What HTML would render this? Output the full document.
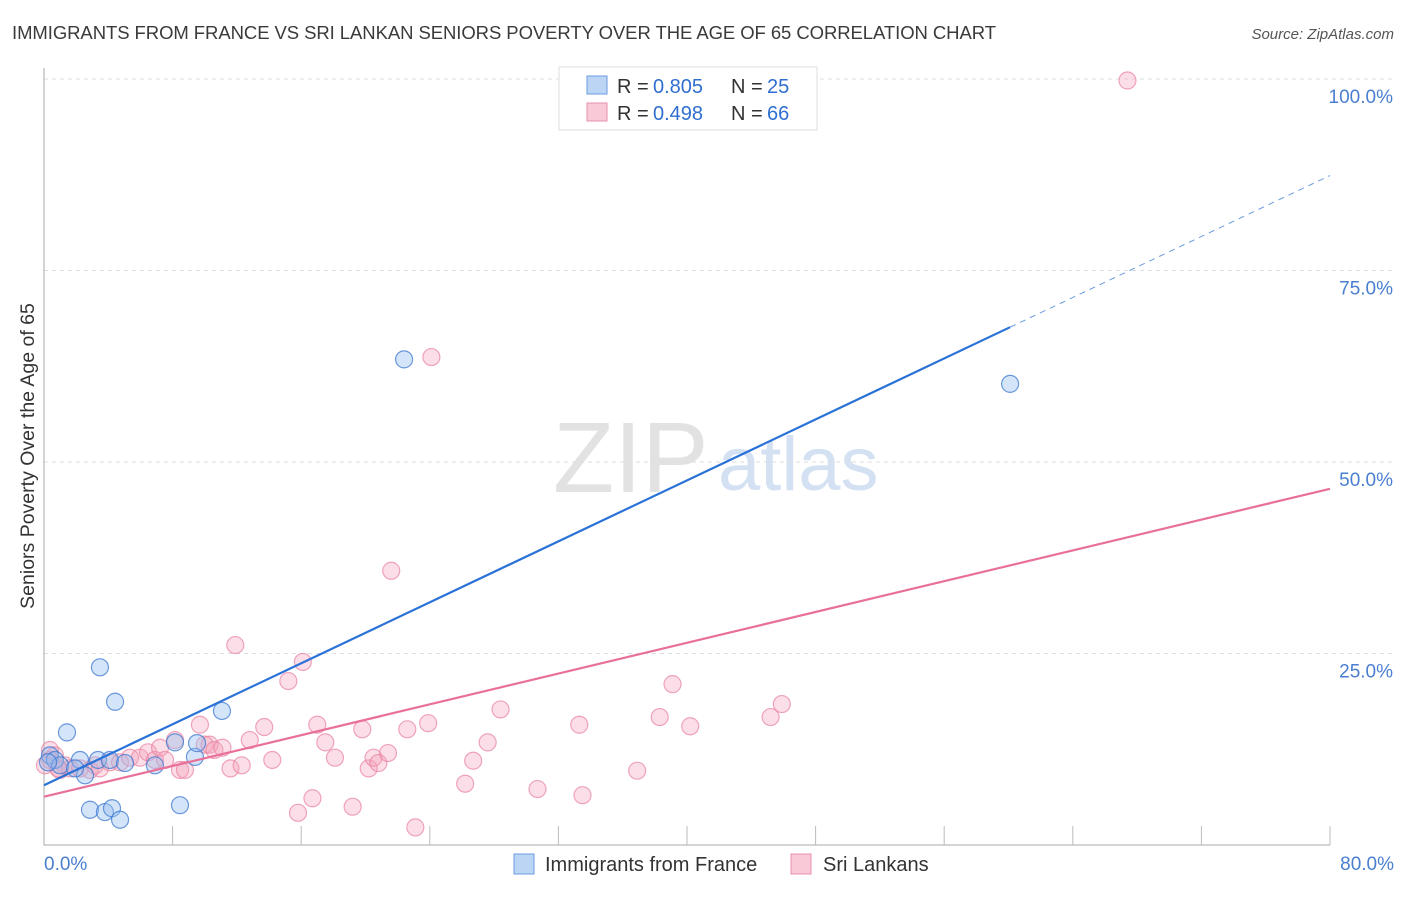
<!DOCTYPE html>
<html><head><meta charset="utf-8"><style>
body{margin:0;background:#fff;font-family:"Liberation Sans",sans-serif;}
svg text{font-family:"Liberation Sans",sans-serif;}
</style></head><body>
<svg width="1406" height="892" xmlns="http://www.w3.org/2000/svg">
<text x="12" y="39" font-size="18.5" fill="#3a3a3a" textLength="984">IMMIGRANTS FROM FRANCE VS SRI LANKAN SENIORS POVERTY OVER THE AGE OF 65 CORRELATION CHART</text>
<text x="1394" y="39" font-size="15" fill="#555" text-anchor="end" font-style="italic">Source: ZipAtlas.com</text>
<text x="553" y="492" font-size="100" fill="#e2e2e2" font-family="Liberation Serif">ZIP</text>
<text x="718" y="490" font-size="76" fill="#d3e1f3">atlas</text>
<g id="grid"></g><g id="axes"></g><g id="pts"></g><g id="lines"></g>
<text x="34" y="456" font-size="19.5" fill="#333" text-anchor="middle" transform="rotate(-90 34 456)">Seniors Poverty Over the Age of 65</text>
<g>
<rect x="559" y="67" width="258" height="63" fill="#fff" stroke="#ddd"/>
<rect x="587" y="76" width="20" height="18" fill="#bcd5f5" stroke="#6a9be0"/>
<rect x="587" y="103" width="20" height="18" fill="#f9c9d7" stroke="#e890ab"/>
<text x="617" y="93" font-size="20" fill="#333">R =</text><text x="653" y="93" font-size="20" fill="#2f6fd0">0.805</text>
<text x="731" y="93" font-size="20" fill="#333">N =</text><text x="767" y="93" font-size="20" fill="#2f6fd0">25</text>
<text x="617" y="120" font-size="20" fill="#333">R =</text><text x="653" y="120" font-size="20" fill="#2f6fd0">0.498</text>
<text x="731" y="120" font-size="20" fill="#333">N =</text><text x="767" y="120" font-size="20" fill="#2f6fd0">66</text>
</g>
<g>
<rect x="514" y="854" width="20" height="20" fill="#bcd5f5" stroke="#6a9be0"/>
<text x="545" y="871" font-size="20" fill="#333">Immigrants from France</text>
<rect x="791" y="854" width="20" height="20" fill="#f9c9d7" stroke="#e890ab"/>
<text x="823" y="871" font-size="20" fill="#333">Sri Lankans</text>
</g>
</svg>
<script>
const xTicks=[0,8,16,24,32,40,48,56,64,72,80];
const yTicks=[25,50,75,100];
const blueX=[0.37,0.68,1.0,1.43,2.24,2.55,3.36,3.48,4.1,4.42,2.86,3.79,4.23,4.73,5.04,6.9,8.15,8.46,9.39,9.52,11.07,22.4,60.1,1.93,0.25];
const blueY=[11.7,11.1,10.4,14.7,11.1,9.1,11.1,23.2,11.1,18.7,4.6,4.3,4.8,3.3,10.7,10.4,13.4,5.2,11.5,13.3,17.5,63.4,60.2,10.0,10.8];
const pinkX=[0.37,0.68,1.0,1.31,1.62,2.24,2.86,3.17,3.48,4.1,4.73,5.35,5.97,6.47,6.9,7.22,7.53,8.15,8.46,8.77,9.7,10.0,10.3,10.6,11.1,11.6,11.9,12.3,12.8,13.7,14.2,15.2,15.8,16.1,16.7,17.0,17.5,18.1,19.2,19.8,20.2,20.5,20.8,21.4,21.6,22.6,23.1,23.9,24.1,26.2,26.7,27.6,28.4,30.7,33.3,33.5,36.9,38.3,39.1,40.2,45.2,45.9,67.4,0.37,0.06,0.87];
const pinkY=[11.1,11.7,9.8,10.4,10.0,10.0,9.8,10.4,10.0,10.8,10.8,11.4,11.4,12.1,11.1,12.7,11.1,13.7,9.8,9.8,15.7,13.1,13.1,12.4,12.7,10.0,26.1,10.4,13.7,15.4,11.1,21.4,4.2,23.9,6.1,15.7,13.4,11.4,5.0,15.1,10.0,11.4,10.7,12.0,35.8,15.1,2.3,15.9,63.7,8.0,11.0,13.4,17.7,7.3,15.7,6.5,9.7,16.7,21.0,15.5,16.7,18.4,99.8,12.4,10.4,10.0];
const blueLine=[7.8,0.995,60.1];
const pinkLine=[6.3,46.5];
const X=v=>44+v/80*1286, Y=v=>845-v/100*766;
const NS='http://www.w3.org/2000/svg';
function mk(p,t,a){const e=document.createElementNS(NS,t);for(const k in a)e.setAttribute(k,a[k]);document.getElementById(p).appendChild(e);return e;}
yTicks.forEach(t=>{const g=mk('grid','line',{x1:44,x2:1394,y1:Y(t),y2:Y(t),stroke:'#ddd','stroke-dasharray':'4,4'});


const l=mk('axes','text',{x:1393,y:Y(t)+24,'font-size':19,fill:'#4a7fd0','text-anchor':'end'});l.textContent=t.toFixed(1)+'%';

});
const ax=mk('axes','path',{d:'M44 68V845H1330',stroke:'#aaa',fill:'none'});


xTicks.forEach((t,i)=>{if(i>0){const k=mk('axes','line',{x1:X(t),x2:X(t),y1:826,y2:845,stroke:'#bbb'});

}});
[[0,'start',44],[80,'end',1394]].forEach(([t,a,x])=>{const l=mk('axes','text',{x:x,y:870,'font-size':19,fill:'#4a7fd0','text-anchor':a});l.textContent=t.toFixed(1)+'%';

});
pinkX.forEach((v,i)=>{const c=mk('pts','circle',{cx:X(v),cy:Y(pinkY[i]),r:8.5,fill:'rgba(244,160,185,0.35)',stroke:'rgba(232,130,160,0.7)','stroke-width':1.2});

});
blueX.forEach((v,i)=>{const c=mk('pts','circle',{cx:X(v),cy:Y(blueY[i]),r:8.5,fill:'rgba(150,190,240,0.4)',stroke:'rgba(60,120,210,0.75)','stroke-width':1.2});

});
const bl=mk('lines','line',{x1:X(0),y1:Y(blueLine[0]),x2:X(blueLine[2]),y2:Y(blueLine[0]+blueLine[1]*blueLine[2]),stroke:'#2a72d8','stroke-width':2.2});


const bd=mk('lines','line',{x1:X(blueLine[2]),y1:Y(blueLine[0]+blueLine[1]*blueLine[2]),x2:X(80),y2:Y(blueLine[0]+blueLine[1]*80),stroke:'#6a9be0','stroke-width':1,'stroke-dasharray':'6,5'});


const pl=mk('lines','line',{x1:X(0),y1:Y(pinkLine[0]),x2:X(80),y2:Y(pinkLine[1]),stroke:'#e8709a','stroke-width':2.2});


</script>
</body></html>
